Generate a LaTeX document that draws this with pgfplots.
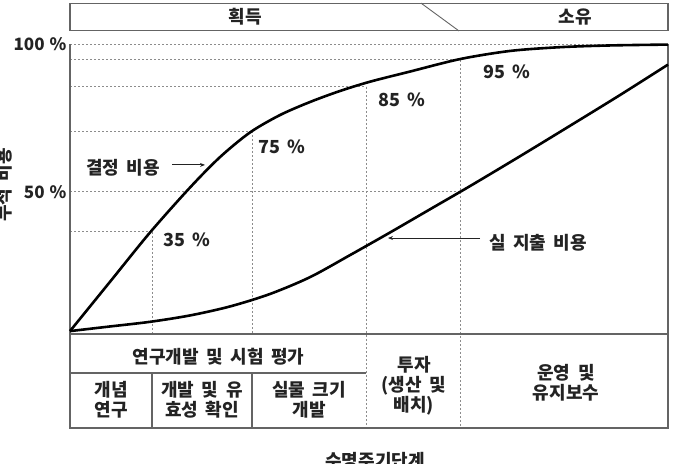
\documentclass[border=0pt]{standalone}
\usepackage{pgfplots}
\pgfplotsset{compat=1.18}
\usepackage{fontspec}
\setmainfont{Noto Sans CJK KR}
\usetikzlibrary{arrows.meta}
\definecolor{txt}{RGB}{35,35,35}
\definecolor{gridc}{RGB}{140,140,140}
\definecolor{framec}{RGB}{100,100,100}
\newcommand\labfont{\bfseries\fontsize{18}{20}\selectfont\spaceskip=0.42em\relax}
\newcommand\tickfont{\bfseries\fontsize{17}{17}\selectfont\spaceskip=0.3em\relax}
\begin{document}
\begin{tikzpicture}[x=1pt,y=1pt]
\useasboundingbox (0,0) rectangle (674,463);
\begin{axis}[
  at={(70pt,129pt)}, anchor=south west,
  scale only axis, width=598pt, height=290pt,
  xmin=0, xmax=598, ymin=0, ymax=100,
  axis line style={draw=none},
  xtick=\empty, ytick={49,100}, yticklabels={50 \%,100 \%},
  major tick length=0pt,
  yticklabel style={font=\tickfont, text=txt},
  clip=false,
]
% grid / guide lines
\tikzset{gl/.style={draw=gridc, line width=0.9pt, dash pattern=on 2pt off 2pt}}
\draw[gl] (axis cs:0,100) -- (axis cs:598,100);
\draw[gl] (axis cs:0,94.5) -- (axis cs:390,94.5);
\draw[gl] (axis cs:0,85.2) -- (axis cs:296,85.2);
\draw[gl] (axis cs:0,70) -- (axis cs:182,70);
\draw[gl] (axis cs:0,49) -- (axis cs:390,49);
\draw[gl] (axis cs:0,35.2) -- (axis cs:82,35.2);
\draw[gl] (axis cs:82,35.2) -- (axis cs:82,0);
\draw[gl] (axis cs:182,70) -- (axis cs:182,0);
\draw[gl] (axis cs:296,85.2) -- (axis cs:296,-32.4);
\draw[gl] (axis cs:390,94.5) -- (axis cs:390,-32.4);
% frame
\draw[framec, line width=1.1pt] (axis cs:0,100) -- (axis cs:0,-32.4) -- (axis cs:598,-32.4) -- (axis cs:598,100);
\draw[framec, line width=1.1pt] (axis cs:0,0) -- (axis cs:598,0);
\draw[framec, line width=1.1pt] (axis cs:0,-13.45) -- (axis cs:296,-13.45);
\draw[framec, line width=1.1pt] (axis cs:82,-13.45) -- (axis cs:82,-32.4);
\draw[framec, line width=1.1pt] (axis cs:182,-13.45) -- (axis cs:182,-32.4);
% top box
\draw[framec, line width=1.1pt] (axis cs:0,104.5) rectangle (axis cs:598,114.1);
\draw[framec, line width=0.9pt] (axis cs:351,114.1) -- (axis cs:389,104.5);
\tikzset{lab/.style={font=\labfont, text=txt, align=center, inner sep=0pt}}
\node[lab] at (axis cs:175,109.3) {획득};
\node[lab] at (axis cs:505,109.3) {소유};
% table text
\node[lab] at (axis cs:148.6,-7.9) {연구개발 및 시험 평가};
\node[lab] at (axis cs:41,-22.8) {개념\\연구};
\node[lab] at (axis cs:132,-22.8) {개발 및 유\\효성 확인};
\node[lab] at (axis cs:239,-22.8) {실물 크기\\개발};
\node[lab] at (axis cs:344,-17.9) {투자\\(생산 및\\배치)};
\node[lab] at (axis cs:496,-16.9) {운영 및\\유지보수};
% axis labels
\node[lab, rotate=90] at (axis cs:-66,51.4) {누적 비용};
\node[lab] at (axis cs:305,-43.8) {수명주기단계};
% percentage labels
\node[lab] at (axis cs:117,32.4) {35 \%};
\node[lab] at (axis cs:212,64.5) {75 \%};
\node[lab] at (axis cs:332,80.7) {85 \%};
\node[lab] at (axis cs:437,90.3) {95 \%};
% curves
\addplot[smooth, line width=2.6pt, color=black] coordinates {
(0,1.0) (40,18.0) (80,35.0) (120,50.5) (150,61.0) (180,69.5) (210,75.5) (240,80.0)
(270,83.8) (300,87.0) (340,90.5) (390,94.8) (440,97.6) (490,98.9) (540,99.5) (598,99.8)};
\addplot[smooth, line width=2.6pt, color=black] coordinates {
(0,1.0) (40,2.6) (80,4.2) (120,6.4) (160,9.5) (200,13.8) (240,19.6) (280,27.2)
(320,35.0) (360,43.0) (400,51.0) (450,61.3) (500,71.8) (550,82.4) (598,92.9)};
% annotations
\node[lab] at (axis cs:53,57.2) {결정 비용};
\draw[-{Stealth[length=5pt,width=4pt]}, line width=0.9pt, txt] (axis cs:102,58.3) -- (axis cs:135,58.3);
\node[lab] at (axis cs:468,31.4) {실 지출 비용};
\draw[-{Stealth[length=5pt,width=4pt]}, line width=0.9pt, txt] (axis cs:410,33.1) -- (axis cs:318,33.1);
\end{axis}
\end{tikzpicture}
\end{document}
